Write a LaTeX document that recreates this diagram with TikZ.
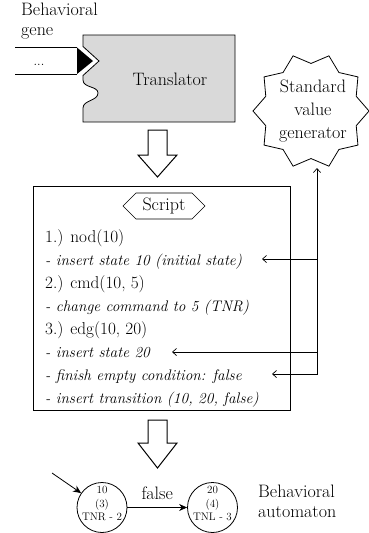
\documentclass[tikz,border=0pt]{standalone}
\usetikzlibrary{shapes.geometric,shapes.misc,arrows.meta,calc}
\begin{document}
\begin{tikzpicture}[x=1pt,y=-1pt,
  lbl/.style={font=\fontsize{18}{20}\selectfont, inner sep=0pt},
  up/.style={font=\fontsize{17.2}{20}\selectfont, inner sep=0pt, anchor=base west},
  it/.style={font=\fontsize{15.3}{20}\selectfont\itshape, inner sep=0pt, anchor=base west},
  edgeline/.style={line width=0.8pt},
  conn/.style={line width=0.7pt},
  barb/.tip={Straight Barb[length=4pt,width=7pt]},
  hollow/.style={draw, line width=1pt, fill=white, line join=miter},
  state/.style={circle, draw, line width=0.8pt, minimum size=50pt, inner sep=0pt},
  statetext/.style={align=center, inner sep=0pt, font=\fontsize{11}{13.5}\selectfont},
  tarrow/.style={line width=0.8pt, -{Stealth[length=8pt,width=7pt]}}
]
\useasboundingbox (0,0) rectangle (368,533);

% input gene
\node[lbl, anchor=base west, align=left] (gene) at (21,35) {Behavioral\\gene};
\coordinate (a1) at (15,47);
\coordinate (a1e) at (77,47);
\coordinate (a2) at (15,74);
\coordinate (a2e) at (77,74);
\draw[conn] (a1) -- (a1e);
\draw[conn] (a2) -- (a2e);
\node[inner sep=0pt, anchor=base, font=\fontsize{13}{13}\selectfont] (dots) at (39,65) {...};
\fill (77,47.5) -- (93,61) -- (77,74) -- cycle;

% translator
\draw[edgeline, fill=gray!30] (83,35) -- (235,35) -- (235,122) -- (83,122) -- (83,108)
  .. controls (83,100) and (98,101) .. (98,93)
  .. controls (98,86) and (83,88) .. (83,80) -- (83,75.5) -- (99,61) -- (83,46.5) -- cycle;
\node[lbl, anchor=base] (translator) at (170,85) {Translator};

% hollow arrow 1
\draw[hollow] (148,130) -- (167,130) -- (167,155) -- (177,155) -- (157.5,177)
  -- (138,155) -- (148,155) -- cycle;

% script box
\node[draw, line width=1pt, anchor=north west, minimum width=257pt, minimum height=224pt, inner sep=0pt] (scriptbox) at (33,186) {};
\node[chamfered rectangle, draw, line width=0.6pt, chamfered rectangle xsep=10pt,
  chamfered rectangle ysep=5pt, minimum width=82pt, minimum height=18pt, lbl] (scriptlbl) at (164,206) {Script};

\node[up] (l1) at (45,242) {1.) nod(10)};
\node[it] (l2) at (45,265) {- insert state 10 (initial state)};
\node[up] (l3) at (45,288) {2.) cmd(10, 5)};
\node[it] (l4) at (45,311) {- change command to 5 (TNR)};
\node[up] (l5) at (45,334) {3.) edg(10, 20)};
\node[it] (l6) at (45,357) {- insert state 20};
\node[it] (l7) at (45,380) {- finish empty condition: false};
\node[it] (l8) at (45,403) {- insert transition (10, 20, false)};

% standard value generator
\node[star, star points=10, star point ratio=1.22, shape border rotate=18, draw,
  line width=0.8pt, minimum size=116pt, inner sep=0pt] (star) at (311,111) {};
\node[lbl, align=center, font=\fontsize{18}{23}\selectfont] (gen) at (313,111) {Standard\\value\\generator};

\coordinate (vtop) at (317,168);
\coordinate (vb) at (317,374);
\coordinate (v1) at (317,259);
\coordinate (v2) at (317,352);
\coordinate (t1) at (262,259);
\coordinate (t2) at (172,352);
\coordinate (t3) at (272,374);
\draw[conn, barb-barb] (t3) -- (vb) -- (vtop);
\draw[conn, -barb] (v1) -- (t1);
\draw[conn, -barb] (v2) -- (t2);

% hollow arrow 2
\draw[hollow] (148,420) -- (167,420) -- (167,443) -- (177,443) -- (157.5,468)
  -- (138,443) -- (148,443) -- cycle;

% automaton
\node[state] (s10) at (102,507.5) {};
\node[statetext, yshift=4pt] (s10t) at (s10) {10\\(3)\\TNR - 2};
\node[state] (s20) at (212.5,507.5) {};
\node[statetext, yshift=4pt] (s20t) at (s20) {20\\(4)\\TNL - 3};
\coordinate (init) at (52,473);
\draw[tarrow] (init) -- (s10);
\draw[tarrow] (s10) -- node[lbl, above=7pt] (lf) {false} (s20);
\node[lbl, anchor=base west, align=left] (auto) at (258,517) {Behavioral\\automaton};
\end{tikzpicture}
\end{document}
